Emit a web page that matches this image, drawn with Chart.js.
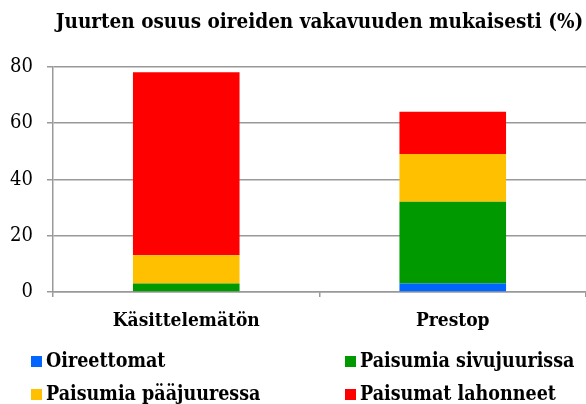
<!DOCTYPE html>
<html>
<head>
<meta charset="utf-8">
<script src="https://cdn.jsdelivr.net/npm/chart.js@4/dist/chart.umd.min.js"></script>
<style>
  html, body { margin: 0; padding: 0; background: #fff; }
  #wrap { position: relative; width: 586px; height: 404px; }
  #legend { position: absolute; left: 0; top: 0; width: 586px; height: 404px; pointer-events: none; }
  .item { position: absolute; display: flex; align-items: center; font-family: 'DejaVu Serif Condensed', 'Liberation Serif', serif; font-weight: bold; font-size: 19.5px; color: #000; white-space: nowrap; line-height: 22px; }
  .box { width: 11px; height: 11px; margin-right: 4px; }
</style>
</head>
<body>
<div id="wrap">
  <canvas id="c" width="586" height="404"></canvas>
  <div id="legend"></div>
</div>
<script>
const titleText = 'Juurten osuus oireiden vakavuuden mukaisesti (%)';
const categories = ['Käsittelemätön', 'Prestop'];
const seriesNames = ['Oireettomat', 'Paisumia sivujuurissa', 'Paisumia pääjuuressa', 'Paisumat lahonneet'];
const oireettomat = [0, 3];
const sivujuurissa = [3, 29];
const paajuuressa = [10, 17];
const lahonneet = [65, 15];
const yTicks = [0, 20, 40, 60, 80];
const seriesColors = ['#0066FF', '#009900', '#FFC000', '#FF0000'];

const FONT = "'DejaVu Serif Condensed', 'Liberation Serif', serif";
const seriesValues = [oireettomat, sivujuurissa, paajuuressa, lahonneet];

const chart = new Chart(document.getElementById('c'), {
  type: 'bar',
  data: {
    labels: categories,
    datasets: seriesNames.map((name, i) => ({
      label: name,
      data: seriesValues[i],
      backgroundColor: seriesColors[i],
      borderWidth: 0,
      categoryPercentage: 1.0,
      barPercentage: 0.4
    }))
  },
  options: {
    responsive: false,
    animation: false,
    devicePixelRatio: 1,
    layout: { padding: { left: 0, right: 0, top: 0, bottom: 0 } },
    plugins: {
      legend: { display: false },
      tooltip: { enabled: false },
      title: {
        display: true,
        fullSize: false,
        align: 'center',
        text: titleText,
        color: '#000',
        font: { family: FONT, size: 20.5, weight: 'bold' },
        padding: { top: 10, bottom: 32 }
      }
    },
    scales: {
      x: {
        stacked: true,
        grid: { display: true, drawOnChartArea: false, drawTicks: true, tickLength: 5, color: '#999', lineWidth: 1.5, offset: true },
        border: { display: true, color: '#999', width: 1.5 },
        ticks: { color: '#000', font: { family: FONT, size: 19, weight: 'bold' }, padding: 13, maxRotation: 0 },
        afterFit: s => { s.height = 112; }
      },
      y: {
        stacked: true,
        min: 0,
        max: 80,
        afterBuildTicks: s => { s.ticks = yTicks.map(v => ({ value: v })); },
        grid: { color: '#999', lineWidth: 1.5, drawTicks: true, tickLength: 6 },
        border: { display: true, color: '#999', width: 1.5 },
        ticks: { color: '#000', font: { family: FONT, size: 20 }, padding: 14 },
        afterFit: s => { s.width = 53; }
      }
    }
  }
});

// HTML legend built from the chart datasets (two columns)
const legendEl = document.getElementById('legend');
const legendPos = [[31, 350], [345, 350], [31, 383], [345, 383]];
chart.data.datasets.forEach((ds, i) => {
  const it = document.createElement('div');
  it.className = 'item';
  it.style.left = legendPos[i][0] + 'px';
  it.style.top = legendPos[i][1] + 'px';
  const b = document.createElement('span');
  b.className = 'box';
  b.style.background = ds.backgroundColor;
  const t = document.createElement('span');
  t.textContent = ds.label;
  it.appendChild(b); it.appendChild(t);
  legendEl.appendChild(it);
});
</script>
</body>
</html>
